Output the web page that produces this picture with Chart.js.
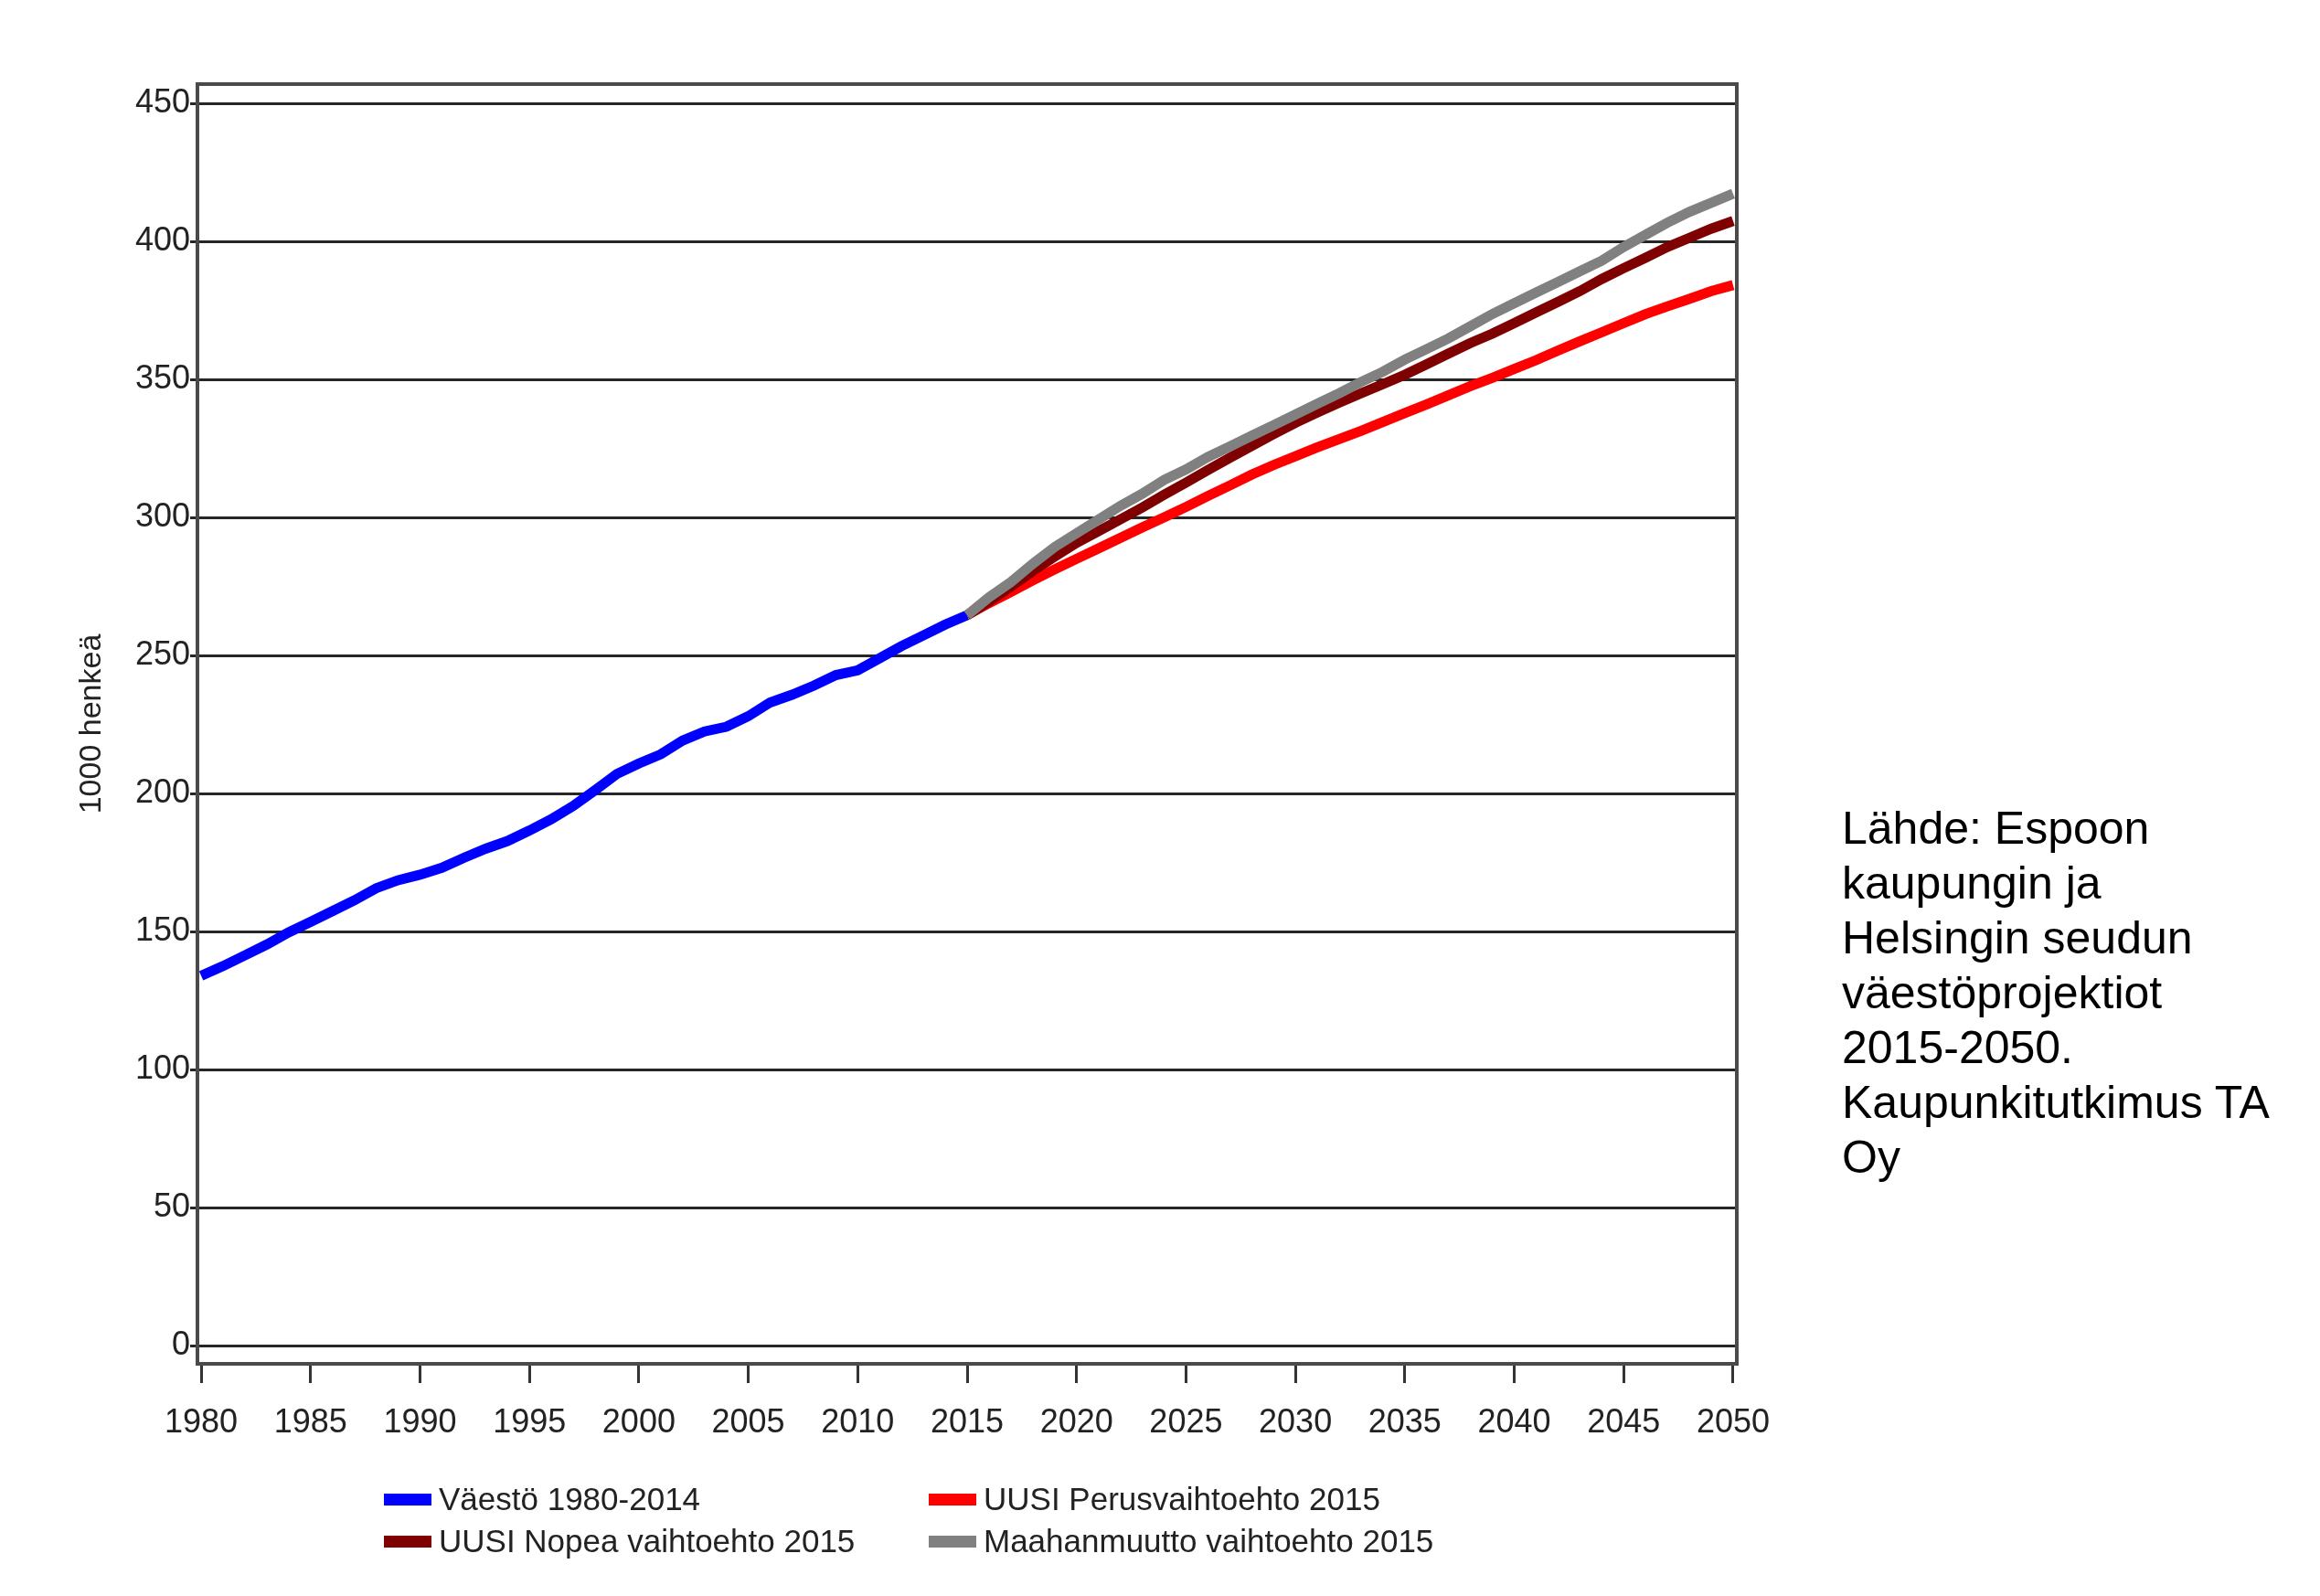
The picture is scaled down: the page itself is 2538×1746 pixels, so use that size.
<!DOCTYPE html>
<html>
<head>
<meta charset="utf-8">
<title>Espoon väestö 1980-2050</title>
<script src="https://cdn.jsdelivr.net/npm/chart.js@4.4.1/dist/chart.umd.min.js"></script>
<style>
  body { margin: 0; background: #fff; }
  #wrap { position: relative; width: 2538px; height: 1746px; }
  #chartCanvas { position: absolute; left: 0; top: 0; }
  #source {
    position: absolute; left: 2015px; top: 876px;
    font-family: "Liberation Sans", Arial, sans-serif;
    font-size: 50px; line-height: 60px; color: #000;
  }
  #legend {
    position: absolute; left: 420px; top: 1617px;
    display: grid; grid-template-columns: 596px auto; grid-auto-rows: 46px;
    font-family: "Liberation Sans", Arial, sans-serif;
    font-size: 35px; color: #222;
  }
  .item { display: flex; align-items: center; white-space: nowrap; }
  .swatch { width: 52px; height: 13px; margin-right: 8px; }
</style>
</head>
<body>
<div id="wrap">
  <canvas id="chartCanvas" width="2538" height="1746"></canvas>
  <div id="legend"></div>
  <div id="source">Lähde: Espoon<br>kaupungin ja<br>Helsingin seudun<br>väestöprojektiot<br>2015-2050.<br>Kaupunkitutkimus TA<br>Oy</div>
</div>
<script>
// tick labels
const X_TICKS = [1980, 1985, 1990, 1995, 2000, 2005, 2010, 2015, 2020, 2025, 2030, 2035, 2040, 2045, 2050];
const Y_TICKS = [0, 50, 100, 150, 200, 250, 300, 350, 400, 450];

// history (1000 henkeä)
const YEARS_HIST = [1980, 1981, 1982, 1983, 1984, 1985, 1986, 1987, 1988, 1989,
                    1990, 1991, 1992, 1993, 1994, 1995, 1996, 1997, 1998, 1999,
                    2000, 2001, 2002, 2003, 2004, 2005, 2006, 2007, 2008, 2009,
                    2010, 2011, 2012, 2013, 2014, 2015];
const VAESTO = [134.0, 137.5, 141.4, 145.3, 149.7, 153.5, 157.4, 161.3, 165.7, 168.6,
                170.6, 173.1, 176.7, 180.0, 182.8, 186.6, 190.7, 195.5, 201.2, 207.1,
                210.9, 214.2, 219.2, 222.5, 224.2, 228.0, 233.0, 235.8, 239.1, 242.9,
                244.6, 249.0, 253.4, 257.3, 261.2, 264.6];

// projections
const YEARS_PROJ = [2015, 2016, 2017, 2018, 2019, 2020, 2021, 2022, 2023, 2024,
                    2025, 2026, 2027, 2028, 2029, 2030, 2031, 2032, 2033, 2034,
                    2035, 2036, 2037, 2038, 2039, 2040, 2041, 2042, 2043, 2044,
                    2045, 2046, 2047, 2048, 2049, 2050];
const PERUS = [264.6, 269.0, 273.0, 277.2, 281.2, 285.0, 288.8, 292.6, 296.4, 300.0,
               303.8, 307.8, 311.6, 315.5, 319.0, 322.2, 325.4, 328.4, 331.4, 334.6,
               337.8, 341.0, 344.3, 347.6, 350.6, 353.8, 357.0, 360.5, 363.8, 367.1,
               370.4, 373.7, 376.5, 379.2, 382.0, 384.2];
const NOPEA = [264.6, 269.5, 275.0, 280.6, 285.8, 290.8, 295.0, 299.3, 303.6, 308.2,
               312.6, 317.2, 321.6, 325.9, 330.2, 334.3, 338.0, 341.6, 345.0, 348.3,
               351.7, 355.5, 359.4, 363.2, 366.6, 370.4, 374.3, 378.1, 382.0, 386.4,
               390.3, 394.1, 398.0, 401.3, 404.6, 407.4];
const MAAHANMUUTTO = [264.6, 271.1, 276.6, 283.2, 289.3, 294.3, 299.2, 304.2, 308.6, 313.6,
                      317.4, 321.9, 325.7, 329.6, 333.4, 337.3, 341.2, 345.0, 349.1, 352.8,
                      357.2, 361.0, 364.9, 369.3, 373.7, 377.6, 381.5, 385.3, 389.2, 393.0,
                      398.0, 402.4, 406.8, 410.7, 414.0, 417.3];

const FONT = "'Liberation Sans', Arial, sans-serif";
const TEXT_COLOR = "#222";
const FRAME_COLOR = "#4a4a4a";

function toPoints(xs, ys) {
  let pts = [];
  for (let i = 0; i < xs.length; i++) {
    pts.push({x: xs[i], y: ys[i]});
  }
  return pts;
}

function makeDataset(label, xs, ys, color, order) {
  return {
    label: label,
    data: toPoints(xs, ys),
    borderColor: color,
    backgroundColor: color,
    borderWidth: 11,
    pointRadius: 0,
    tension: 0,
    fill: false,
    order: order  // lower order is drawn on top
  };
}

// box round the plot area
const framePlugin = {
  id: 'frame',
  afterDraw(chart) {
    const {ctx, chartArea} = chart;
    ctx.save();
    ctx.strokeStyle = FRAME_COLOR;
    ctx.lineWidth = 4;
    ctx.strokeRect(chartArea.left, chartArea.top, chartArea.right - chartArea.left, chartArea.bottom - chartArea.top);
    ctx.restore();
  }
};

const datasets = [
  makeDataset('Väestö 1980-2014', YEARS_HIST, VAESTO, '#0000ff', 3),
  makeDataset('UUSI Perusvaihtoehto 2015', YEARS_PROJ, PERUS, '#ff0000', 2),
  makeDataset('UUSI Nopea vaihtoehto 2015', YEARS_PROJ, NOPEA, '#7f0000', 1),
  makeDataset('Maahanmuutto vaihtoehto 2015', YEARS_PROJ, MAAHANMUUTTO, '#808080', 0)
];

let chart = new Chart(document.getElementById('chartCanvas').getContext('2d'), {
  type: 'line',
  data: { datasets: datasets },
  plugins: [framePlugin],
  options: {
    responsive: false,
    devicePixelRatio: 1,
    animation: false,
    layout: { padding: { left: 0, right: 638, top: 92, bottom: 134 } },
    plugins: {
      legend: { display: false },
      tooltip: { enabled: false }
    },
    scales: {
      x: {
        type: 'linear',
        min: 1979.83,
        max: 2050.17,
        afterBuildTicks: (scale) => { scale.ticks = X_TICKS.map(v => ({value: v})); },
        afterFit: (scale) => { scale.height = 120; },
        grid: {
          drawOnChartArea: false,
          drawTicks: true,
          tickLength: 21,
          tickWidth: 3,
          tickColor: '#333'
        },
        border: { display: true, color: FRAME_COLOR, width: 4 },
        ticks: {
          autoSkip: false,
          maxRotation: 0,
          padding: 22,
          color: TEXT_COLOR,
          font: { family: FONT, size: 36 },
          callback: (v) => String(v)
        }
      },
      y: {
        type: 'linear',
        min: -6.6,
        max: 457,
        afterBuildTicks: (scale) => { scale.ticks = Y_TICKS.map(v => ({value: v})); },
        afterFit: (scale) => { scale.width = 216; },
        grid: {
          color: '#262626',
          lineWidth: 3,
          tickLength: 8
        },
        border: { display: true, color: FRAME_COLOR, width: 4 },
        ticks: {
          padding: 0,
          color: TEXT_COLOR,
          font: { family: FONT, size: 36 },
          callback: (v) => String(v)
        },
        title: {
          display: true,
          text: '1000 henkeä',
          color: TEXT_COLOR,
          font: { family: FONT, size: 34 },
          padding: { top: 80, bottom: 0 }
        }
      }
    }
  }
});

// html legend in two columns, built from the chart datasets
function createLegend() {
  const box = document.getElementById('legend');
  const legendOrder = [0, 1, 2, 3];
  for (const i of legendOrder) {
    const ds = chart.data.datasets[i];
    box.innerHTML += `<div class="item"><span class="swatch" style="background:${ds.borderColor}"></span>${ds.label}</div>`;
  }
}

createLegend();
</script>
</body>
</html>
